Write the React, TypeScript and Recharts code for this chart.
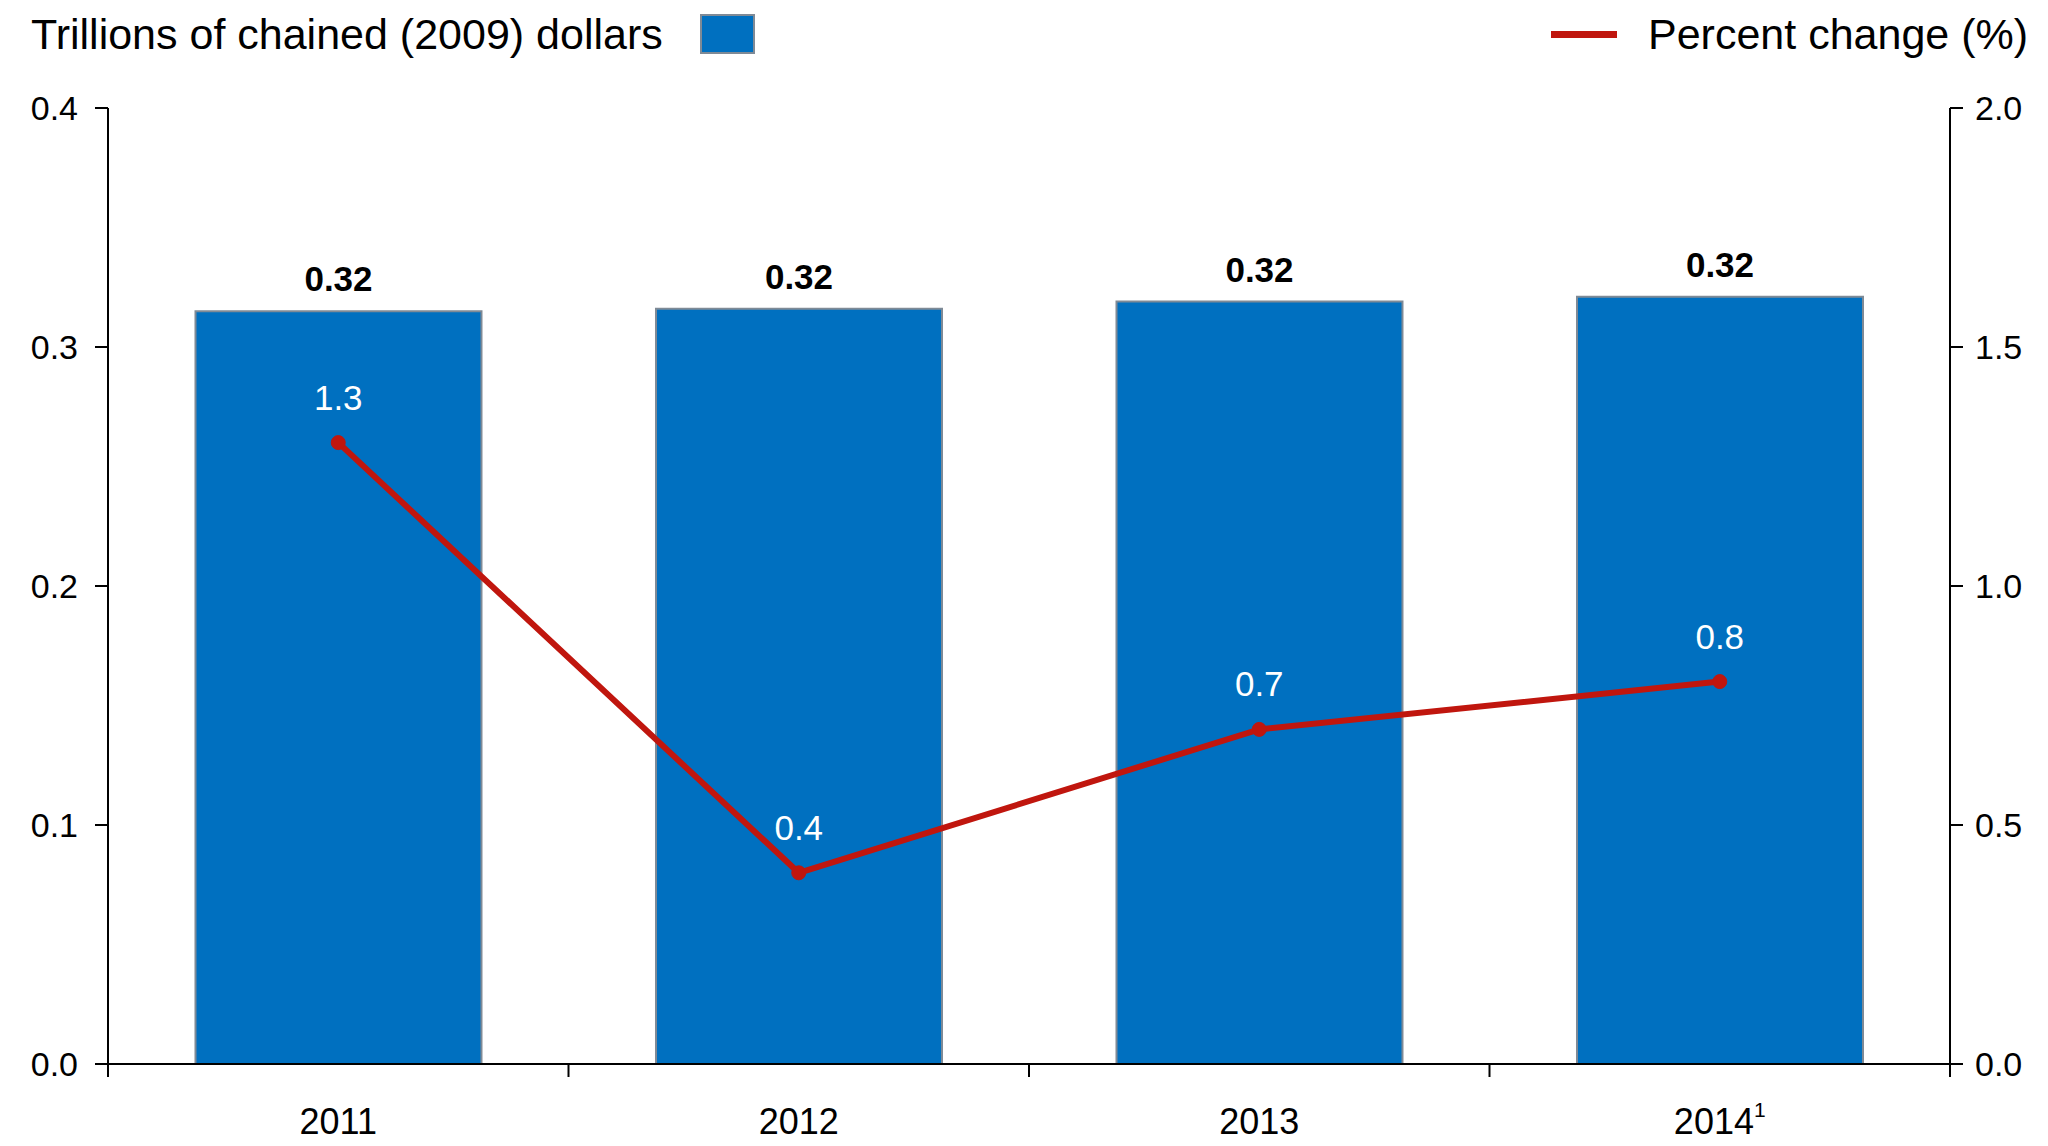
import React from 'react';
import { ComposedChart, Bar, Line, XAxis, YAxis, LabelList } from 'recharts';

const years = ['2011', '2012', '2013', '2014'];
const footnotes = ['', '', '', '1'];
const gdpTrillions = [0.315, 0.316, 0.319, 0.321];
const percentChange = [1.3, 0.4, 0.7, 0.8];
const leftTicks = [0, 0.1, 0.2, 0.3, 0.4];
const rightTicks = [0, 0.5, 1.0, 1.5, 2.0];

const data = years.map((year, i) => ({
  year,
  note: footnotes[i],
  gdp: gdpTrillions[i],
  pct: percentChange[i],
}));

const FONT = '"Liberation Sans", Arial, sans-serif';
const BLUE = '#0070C0';
const RED = '#C0160E';

function YearTick(props: any) {
  const { x, y, payload, index } = props;
  const half = payload.offset ?? 230;
  const note = data[index]?.note;
  return (
    <g>
      <line x1={x - half} y1={y} x2={x - half} y2={y + 13} stroke="#000" strokeWidth={2} />
      {index === years.length - 1 && (
        <line x1={x + half} y1={y} x2={x + half} y2={y + 13} stroke="#000" strokeWidth={2} />
      )}
      <text x={x} y={y + 57} textAnchor="middle" dominantBaseline="central" fontSize={36} fontFamily={FONT} fill="#000">
        <tspan>{payload.value}</tspan>
        {note && (
          <tspan dy={-12} fontSize={21}>
            {note}
          </tspan>
        )}
      </text>
    </g>
  );
}

export default function App() {
  return (
    <div style={{ position: 'absolute', left: 0, top: 0, width: 2048, height: 1146, background: '#fff', fontFamily: FONT }}>
      <div style={{ position: 'absolute', left: 31, top: 11, fontSize: 43, lineHeight: '46px', color: '#000', whiteSpace: 'nowrap' }}>
        Trillions of chained (2009) dollars
      </div>
      <div
        style={{
          position: 'absolute',
          left: 700,
          top: 14,
          width: 55,
          height: 40,
          background: BLUE,
          border: '2px solid #7f8a96',
          boxSizing: 'border-box',
        }}
      />
      <div style={{ position: 'absolute', left: 1551, top: 31, width: 66, height: 7, background: RED }} />
      <div style={{ position: 'absolute', left: 1648, top: 11, fontSize: 43, lineHeight: '46px', color: '#000', whiteSpace: 'nowrap' }}>
        Percent change (%)
      </div>
      <div style={{ position: 'absolute', left: 0, top: 0 }}>
        <ComposedChart width={2048} height={1146} data={data} margin={{ top: 108, right: 0, bottom: 0, left: 0 }} barCategoryGap="19%">
          <XAxis
            dataKey="year"
            height={82}
            axisLine={{ stroke: '#000', strokeWidth: 2 }}
            tickLine={false}
            tickSize={0}
            tickMargin={0}
            tick={<YearTick />}
            interval={0}
          />
          <YAxis
            yAxisId="left"
            width={108}
            domain={[0, 0.4]}
            ticks={leftTicks}
            tickFormatter={(v: number) => v.toFixed(1)}
            axisLine={{ stroke: '#000', strokeWidth: 2 }}
            tickLine={{ stroke: '#000', strokeWidth: 2 }}
            tickSize={13}
            tickMargin={17}
            tick={{ fontSize: 34, fill: '#000', fontFamily: FONT }}
          />
          <YAxis
            yAxisId="right"
            orientation="right"
            width={98}
            domain={[0, 2]}
            ticks={rightTicks}
            tickFormatter={(v: number) => v.toFixed(1)}
            axisLine={{ stroke: '#000', strokeWidth: 2 }}
            tickLine={{ stroke: '#000', strokeWidth: 2 }}
            tickSize={13}
            tickMargin={12}
            tick={{ fontSize: 34, fill: '#000', fontFamily: FONT }}
          />
          <Bar yAxisId="left" dataKey="gdp" fill={BLUE} stroke="#7f8a96" strokeWidth={2} isAnimationActive={false}>
            <LabelList
              dataKey="gdp"
              position="top"
              offset={20}
              formatter={(v: any) => Number(v).toFixed(2)}
              fontSize={35}
              fontWeight="bold"
              fontFamily={FONT}
              fill="#000"
            />
          </Bar>
          <Line
            yAxisId="right"
            type="linear"
            dataKey="pct"
            stroke={RED}
            strokeWidth={6}
            dot={{ r: 7, fill: RED, stroke: RED, strokeWidth: 1 }}
            activeDot={false}
            isAnimationActive={false}
          >
            <LabelList
              dataKey="pct"
              position="top"
              offset={33}
              formatter={(v: any) => Number(v).toFixed(1)}
              fontSize={35}
              fontFamily={FONT}
              fill="#fff"
            />
          </Line>
        </ComposedChart>
      </div>
    </div>
  );
}
